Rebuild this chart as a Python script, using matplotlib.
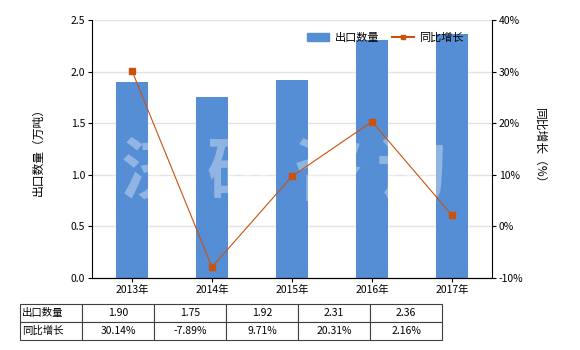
import numpy as np
import matplotlib.pyplot as plt
from matplotlib.lines import Line2D
from matplotlib.patches import Patch

plt.rcParams['font.family'] = ['Noto Sans CJK SC', 'DejaVu Sans']
plt.rcParams['font.size'] = 7.5

years = ['2013年', '2014年', '2015年', '2016年', '2017年']
qty = [1.90, 1.75, 1.92, 2.31, 2.36]          # 出口数量（万吨）
growth = [30.14, -7.89, 9.71, 20.31, 2.16]    # 同比增长（%）
qty_lbl = ['1.90', '1.75', '1.92', '2.31', '2.36']
growth_lbl = ['30.14%', '-7.89%', '9.71%', '20.31%', '2.16%']

bar_c = '#558ed5'
line_c = '#c9520c'

fig = plt.figure(figsize=(5.8, 3.5), dpi=100)
ax = fig.add_axes([92/580, 1-278/350, 400/580, 258/350])
x = np.arange(len(years))
ax.bar(x, qty, width=0.4, color=bar_c, zorder=2)
ax.set_xlim(-0.5, 4.5)
ax.set_ylim(0, 2.5)
ax.set_yticks(np.arange(0, 2.51, 0.5))
ax.set_yticklabels(['%.1f' % v for v in np.arange(0, 2.51, 0.5)])
ax.set_xticks(x)
ax.set_xticklabels(years)
ax.grid(axis='y', color='#e3e3e3', lw=1.0, zorder=0)
ax.set_axisbelow(True)
ax.spines['top'].set_visible(False)
ax.spines['right'].set_visible(False)
ax.tick_params(length=3, width=0.8, pad=2)
ax.set_ylabel('出口数量（万吨）', labelpad=19, fontsize=8.5)

# watermark, one glyph at a time
for ch, wx in zip('济研咨询', [0.29, 1.36, 2.46, 3.49]):
    ax.text(wx, 1.0, ch, fontsize=50, color='white', alpha=0.35,
            ha='center', va='center', fontweight='bold', zorder=4)

ax2 = ax.twinx()
ax2.plot(x, growth, color=line_c, lw=0.8, marker='s', ms=4, zorder=3)
ax2.set_ylim(-10, 40)
ax2.set_yticks(range(-10, 41, 10))
ax2.set_yticklabels(['%d%%' % v for v in range(-10, 41, 10)])
ax2.spines['top'].set_visible(False)
ax2.spines['left'].set_visible(False)
ax2.tick_params(length=3, width=0.8, pad=2)
ax2.set_ylabel('同比增长（%）', rotation=270, labelpad=16, fontsize=8.5)

handles = [Patch(color=bar_c), Line2D([], [], color=line_c, lw=1.5, marker='s', ms=3)]
ax2.legend(handles, ['出口数量', '同比增长'], loc='upper right', ncol=2, frameon=False,
           bbox_to_anchor=(0.955, 0.99), handlelength=2.0, columnspacing=1.1,
           handletextpad=0.5, fontsize=8)

# data table
tax = fig.add_axes([20/580, 1-340/350, 422/580, 36/350])
tax.axis('off')
cells = [['出口数量'] + qty_lbl, ['同比增长'] + growth_lbl]
tb = tax.table(cellText=cells, bbox=[0, 0, 1, 1],
               colWidths=[62] + [72] * 5, cellLoc='center')
tb.auto_set_font_size(False)
for (r, c), cell in tb.get_celld().items():
    cell.set_fontsize(7.5)
    cell.set_edgecolor('#404040')
    cell.set_linewidth(0.8)
    if c == 0:
        cell.get_text().set_ha('left')
        cell.PAD = 0.03

fig.savefig('out.png', dpi=100)
